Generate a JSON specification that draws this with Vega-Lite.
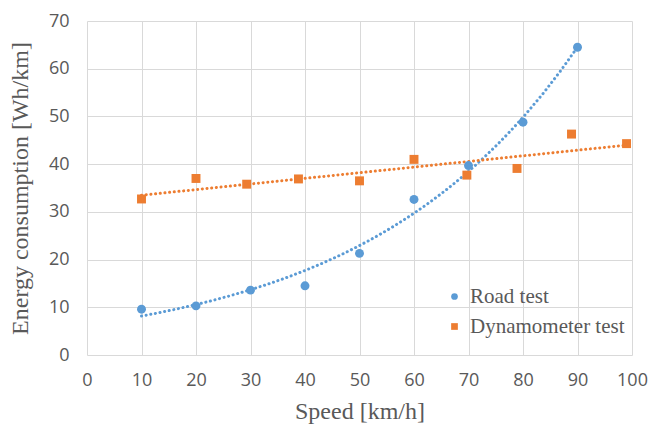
{
  "$schema": "https://vega.github.io/schema/vega-lite/v6.json",
  "width": 545,
  "height": 334,
  "autosize": "none",
  "padding": {"left": 87, "top": 21, "right": 19, "bottom": 72},
  "background": "white",
  "config": {
    "view": {"stroke": null},
    "axis": {
      "grid": true,
      "gridColor": "#d9d9d9",
      "gridWidth": 1,
      "domain": false,
      "ticks": false,
      "labelFlush": false,
      "labelOverlap": false,
      "labelFont": "Open Sans",
      "labelFontSize": 18,
      "labelColor": "#595959",
      "titleFont": "Liberation Serif",
      "titleFontSize": 24,
      "titleFontWeight": "normal",
      "titleColor": "#595959"
    }
  },
  "data": {
    "values": [
      {"series": "Road test", "speed": 10, "energy": 9.6},
      {"series": "Road test", "speed": 20, "energy": 10.3},
      {"series": "Road test", "speed": 30, "energy": 13.6},
      {"series": "Road test", "speed": 40, "energy": 14.5},
      {"series": "Road test", "speed": 50, "energy": 21.3},
      {"series": "Road test", "speed": 60, "energy": 32.6},
      {"series": "Road test", "speed": 70, "energy": 39.7},
      {"series": "Road test", "speed": 80, "energy": 48.8},
      {"series": "Road test", "speed": 90, "energy": 64.5},
      {"series": "Dynamometer test", "speed": 10, "energy": 32.7},
      {"series": "Dynamometer test", "speed": 20, "energy": 37.0},
      {"series": "Dynamometer test", "speed": 29.3, "energy": 35.8},
      {"series": "Dynamometer test", "speed": 38.8, "energy": 36.9},
      {"series": "Dynamometer test", "speed": 50, "energy": 36.5},
      {"series": "Dynamometer test", "speed": 60, "energy": 41.0},
      {"series": "Dynamometer test", "speed": 69.7, "energy": 37.7},
      {"series": "Dynamometer test", "speed": 78.9, "energy": 39.1},
      {"series": "Dynamometer test", "speed": 88.9, "energy": 46.3},
      {"series": "Dynamometer test", "speed": 99.0, "energy": 44.3}
    ]
  },
  "layer": [
    {
      "transform": [
        {"filter": "datum.series === 'Road test'"},
        {"regression": "energy", "on": "speed", "method": "exp", "extent": [10, 90]}
      ],
      "mark": {"type": "line", "color": "#5b9bd5", "strokeWidth": 3, "strokeDash": [0.1, 4.6], "strokeCap": "round"},
      "encoding": {
        "x": {"field": "speed", "type": "quantitative"},
        "y": {"field": "energy", "type": "quantitative"}
      }
    },
    {
      "transform": [
        {"filter": "datum.series === 'Dynamometer test'"},
        {"regression": "energy", "on": "speed", "method": "linear", "extent": [10, 99]}
      ],
      "mark": {"type": "line", "color": "#ed7d31", "strokeWidth": 3, "strokeDash": [0.1, 4.6], "strokeCap": "round"},
      "encoding": {
        "x": {"field": "speed", "type": "quantitative"},
        "y": {"field": "energy", "type": "quantitative"}
      }
    },
    {
      "mark": {"type": "point", "filled": true, "opacity": 1, "size": 80},
      "encoding": {
        "x": {
          "field": "speed",
          "type": "quantitative",
          "scale": {"domain": [0, 100], "nice": false},
          "axis": {"values": [0,10,20,30,40,50,60,70,80,90,100], "labelPadding": 16, "titlePadding": 10},
          "title": "Speed [km/h]"
        },
        "y": {
          "field": "energy",
          "type": "quantitative",
          "scale": {"domain": [0, 70], "nice": false},
          "axis": {"values": [0,10,20,30,40,50,60,70], "labelPadding": 18, "titlePadding": 16},
          "title": "Energy consumption [Wh/km]"
        },
        "color": {
          "field": "series",
          "type": "nominal",
          "scale": {"domain": ["Road test", "Dynamometer test"], "range": ["#5b9bd5", "#ed7d31"]},
          "legend": {
            "title": null,
            "orient": "none",
            "legendX": 357,
            "legendY": 265,
            "padding": 0,
            "symbolSize": 45,
            "labelFont": "Liberation Serif",
            "labelFontSize": 21,
            "labelColor": "#595959",
            "rowPadding": 8,
            "labelOffset": 5
          }
        },
        "shape": {
          "field": "series",
          "type": "nominal",
          "scale": {"domain": ["Road test", "Dynamometer test"], "range": ["circle", "square"]}
        }
      }
    }
  ]
}
